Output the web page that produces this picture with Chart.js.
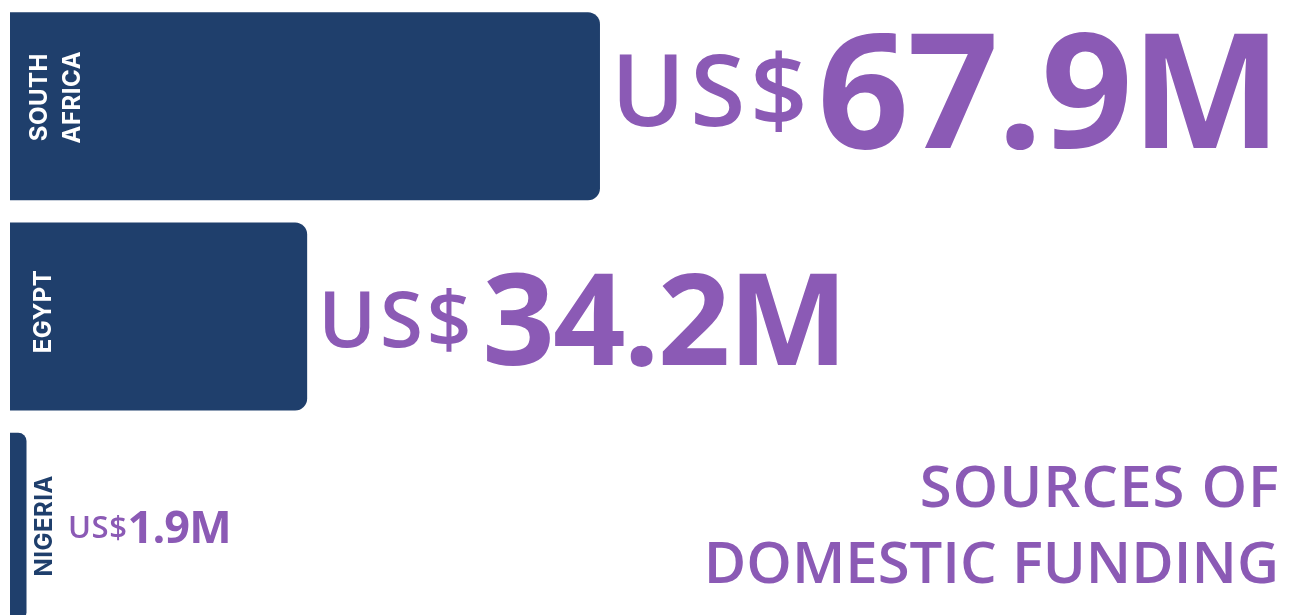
<!DOCTYPE html>
<html><head><meta charset="utf-8">
<script src="https://cdn.jsdelivr.net/npm/chart.js@4/dist/chart.umd.min.js"></script>
<style>
html,body{margin:0;padding:0;background:#fff;overflow:hidden;width:1289px;height:615px}
#wrap{position:relative;width:1289px;height:632px}
</style></head>
<body><div id="wrap"><canvas id="c" width="1289" height="632"></canvas></div>
<script>
// ---- data ----
const categories = ['SOUTH AFRICA', 'EGYPT', 'NIGERIA'];
const categoryLines = [['SOUTH', 'AFRICA'], ['EGYPT'], ['NIGERIA']];
const fundingMillions = [67.9, 34.2, 1.9];
const currencyPrefix = 'US$';
const valueSuffix = 'M';
const titleLines = ['SOURCES OF', 'DOMESTIC FUNDING'];

// ---- styles ----
const NAVY = '#1f3f6c';
const PURPLE = '#8b5ab5';
const labelStyle = [
  {prefix: 100, prefLs: 0.05, gap: 5, num: 160, numLs: -0.01,  dy: -16, catDy: -9, catX: 47},
  {prefix: 78,  prefLs: 0.05, gap: 7, num: 127, numLs: -0.016, dy: 2,   catDy: -5, catX: 51},
  {prefix: 31,  prefLs: 0.02, gap: 0, num: 45,  numLs: -0.02,  dy: 0,   catDy: -1, catX: 52}
];

const labelPlugin = {
  id: 'labels',
  afterDatasetsDraw(chart) {
    const ctx = chart.ctx;
    const meta = chart.getDatasetMeta(0);
    meta.data.forEach((bar, i) => {
      const st = labelStyle[i];
      const left = bar.base;
      const barW = bar.x - left;
      // category label (rotated)
      ctx.save();
      const inside = barW > 40;
      ctx.fillStyle = inside ? '#ffffff' : NAVY;
      ctx.font = '700 24px Inter';
      ctx.letterSpacing = '0.5px';
      ctx.textAlign = 'center';
      ctx.textBaseline = 'alphabetic';
      ctx.translate(st.catX, bar.y + st.catDy);
      ctx.rotate(-Math.PI / 2);
      categoryLines[i].forEach((ln, k) => ctx.fillText(ln, 0, k * 33));
      ctx.restore();

      // value label
      ctx.save();
      ctx.fillStyle = PURPLE;
      ctx.textAlign = 'left';
      ctx.textBaseline = 'alphabetic';
      const cy = bar.y + st.dy;
      let x = Math.max(bar.x + 11, 68);
      ctx.font = '600 ' + st.prefix + 'px "Open Sans"';
      ctx.letterSpacing = (st.prefix * st.prefLs).toFixed(1) + 'px';
      const pm = ctx.measureText('U');
      ctx.fillText(currencyPrefix, x, cy + pm.actualBoundingBoxAscent / 2);
      x += ctx.measureText(currencyPrefix).width + st.gap;
      ctx.font = '700 ' + st.num + 'px "Open Sans"';
      ctx.letterSpacing = (st.num * st.numLs).toFixed(1) + 'px';
      const numStr = fundingMillions[i].toFixed(1) + valueSuffix;
      const nm = ctx.measureText('0');
      ctx.fillText(numStr, x, cy + nm.actualBoundingBoxAscent / 2);
      ctx.restore();
    });

    // title
    ctx.save();
    ctx.fillStyle = PURPLE;
    ctx.font = '600 58px "Open Sans"';
    ctx.textAlign = 'right';
    ctx.textBaseline = 'alphabetic';
    ctx.letterSpacing = '1px';
    ctx.fillText(titleLines[0], 1280, 507);
    ctx.letterSpacing = '0px';
    ctx.fillText(titleLines[1], 1279, 583);
    ctx.restore();
  }
};

new Chart(document.getElementById('c'), {
  type: 'bar',
  data: {
    labels: categories,
    datasets: [{
      data: fundingMillions,
      backgroundColor: NAVY,
      borderRadius: 12,
      borderSkipped: 'start',
      barPercentage: 0.894,
      categoryPercentage: 1
    }]
  },
  options: {
    indexAxis: 'y',
    responsive: false,
    animation: false,
    devicePixelRatio: 1,
    layout: {padding: {left: 10, top: 1, right: 0, bottom: 0}},
    plugins: {legend: {display: false}, tooltip: {enabled: false}, title: {display: false}},
    scales: {
      x: {display: false, min: 0, max: 147.2},
      y: {display: false}
    }
  },
  plugins: [labelPlugin]
});
</script>
</body></html>
